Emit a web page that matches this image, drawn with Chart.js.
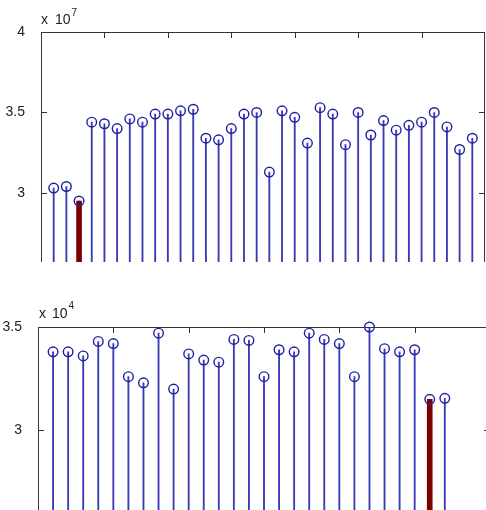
<!DOCTYPE html>
<html>
<head>
<meta charset="utf-8">
<script src="https://cdn.jsdelivr.net/npm/chart.js@4.4.1/dist/chart.umd.min.js"></script>
<style>
  html, body { margin: 0; padding: 0; background: #fff; overflow: hidden; width: 486px; height: 510px; }
  .panel { position: absolute; left: 0; }
  #topWrap { top: 0; }
  #bottomWrap { top: 290px; }
  .expo { position: absolute; font-family: 'Liberation Sans', Arial, sans-serif; font-size: 14px; line-height: 14px; color: #222; white-space: nowrap; }
  .expo span { position: relative; font-size: 10px; }
</style>
</head>
<body>
<div class="panel" id="topWrap"><canvas id="topChart" width="486" height="262"></canvas></div>
<div class="panel" id="bottomWrap"><canvas id="bottomChart" width="492" height="220"></canvas></div>
<div class="expo" style="left:41px; top:12px; word-spacing:3px;">x 10<span style="top:-8px; left:1px;">7</span></div>
<div class="expo" style="left:39px; top:306px; word-spacing:2px;">x 10<span style="top:-9px; left:1px;">4</span></div>

<script>
// top panel data (x 10^7)
const topX = [2, 4, 6, 8, 10, 12, 14, 16, 18, 20, 22, 24, 26, 28, 30, 32, 34,
              36, 38, 40, 42, 44, 46, 48, 50, 52, 54, 56, 58, 60, 62, 64, 66, 68];
const topValues = [3.03, 3.04, 2.95, 3.44, 3.43, 3.40, 3.46, 3.44, 3.49, 3.49, 3.51, 3.52, 3.34, 3.33, 3.40, 3.49, 3.50,
                   3.13, 3.51, 3.47, 3.31, 3.53, 3.49, 3.30, 3.50, 3.36, 3.45, 3.39, 3.42, 3.44, 3.50, 3.41, 3.27, 3.34];
const topHighlight = 2;            // index of the thick red stem
const topYTicks = [3, 3.5, 4];
const topXTicks = [10, 20, 30, 40, 50, 60];

// bottom panel data (x 10^4)
const bottomX = [2, 4, 6, 8, 10, 12, 14, 16, 18, 20, 22, 24, 26, 28,
                 30, 32, 34, 36, 38, 40, 42, 44, 46, 48, 50, 52, 54];
const bottomValues = [3.38, 3.38, 3.36, 3.43, 3.42, 3.26, 3.23, 3.47, 3.20, 3.37, 3.34, 3.33, 3.44, 3.435,
                      3.26, 3.39, 3.38, 3.47, 3.44, 3.42, 3.26, 3.50, 3.395, 3.38, 3.39, 3.15, 3.155];
const bottomHighlight = 25;
const bottomYTicks = [3, 3.5];
const bottomXTicks = [10, 20, 30, 40, 50];

const stemColor = '#3a3ab4';
const markerColor = '#1e1ea4';
const redColor = '#7d0000';
const axisColor = '#333';

// draws the matlab style box with inward ticks
const matlabFrame = {
    id: 'matlabFrame',
    afterDraw(chart, args, opts) {
        const { ctx, chartArea: a, scales: { x, y } } = chart;
        ctx.save();
        ctx.strokeStyle = axisColor;
        ctx.lineWidth = 1;
        ctx.beginPath();
        ctx.moveTo(a.left + 0.5, a.bottom);
        ctx.lineTo(a.left + 0.5, a.top + 0.5);
        ctx.lineTo(a.right - 0.5, a.top + 0.5);
        ctx.lineTo(a.right - 0.5, a.bottom);
        opts.xTicks.forEach(v => {
            const px = Math.round(x.getPixelForValue(v)) + 0.5;
            ctx.moveTo(px, a.top);
            ctx.lineTo(px, a.top + 6);
        });
        opts.yTicks.forEach(v => {
            const py = Math.round(y.getPixelForValue(v)) + 0.5;
            ctx.moveTo(a.left, py);
            ctx.lineTo(a.left + 6, py);
            ctx.moveTo(a.right, py);
            ctx.lineTo(a.right - 6, py);
        });
        ctx.stroke();
        ctx.restore();
    }
};

function makeStemChart(canvasId, xs, values, highlight, cfg) {
    const points = xs.map((x, i) => ({ x: x, y: values[i] }));
    return new Chart(document.getElementById(canvasId), {
        type: 'bar',
        data: {
            datasets: [
                {
                    type: 'line',
                    data: points,
                    showLine: false,
                    pointStyle: 'circle',
                    pointRadius: 4.8,
                    pointBorderWidth: 1.4,
                    pointBorderColor: markerColor,
                    pointBackgroundColor: 'rgba(0,0,0,0)',
                    clip: false,
                    order: 0
                },
                {
                    data: [points[highlight]],
                    backgroundColor: redColor,
                    barThickness: 5,
                    grouped: false,
                    order: 1
                },
                {
                    data: points,
                    backgroundColor: stemColor,
                    barThickness: 1.2,
                    grouped: false,
                    order: 2
                }
            ]
        },
        options: {
            responsive: false,
            animation: false,
            events: [],
            layout: { padding: cfg.padding, autoPadding: false },
            plugins: {
                legend: { display: false },
                tooltip: { enabled: false },
                matlabFrame: { xTicks: cfg.xTicks, yTicks: cfg.yTicks }
            },
            scales: {
                x: { type: 'linear', min: 0, max: cfg.xMax, offset: false, display: false },
                y: {
                    min: cfg.yMin,
                    max: cfg.yMax,
                    grid: { display: false },
                    border: { display: false },
                    afterBuildTicks: s => { s.ticks = cfg.yTicks.map(v => ({ value: v })); },
                    afterFit: s => {
                        s.width = cfg.axisWidth;
                        s.paddingTop = 0;
                        s.paddingBottom = 0;
                    },
                    ticks: {
                        color: '#222',
                        padding: 8,
                        font: { family: "'Liberation Sans', Arial, sans-serif", size: 14 },
                        callback: v => String(v)
                    }
                }
            }
        },
        plugins: [matlabFrame]
    });
}

makeStemChart('topChart', topX, topValues, topHighlight, {
    padding: { top: 32, right: 1, bottom: 0, left: 0 },
    axisWidth: 41, xMax: 70, yMin: 2.571, yMax: 4,
    xTicks: topXTicks, yTicks: topYTicks
});

makeStemChart('bottomChart', bottomX, bottomValues, bottomHighlight, {
    padding: { top: 37, right: 2, bottom: 0, left: 0 },
    axisWidth: 38, xMax: 60, yMin: 2.615, yMax: 3.5,
    xTicks: bottomXTicks, yTicks: bottomYTicks
});
</script>
</body>
</html>
